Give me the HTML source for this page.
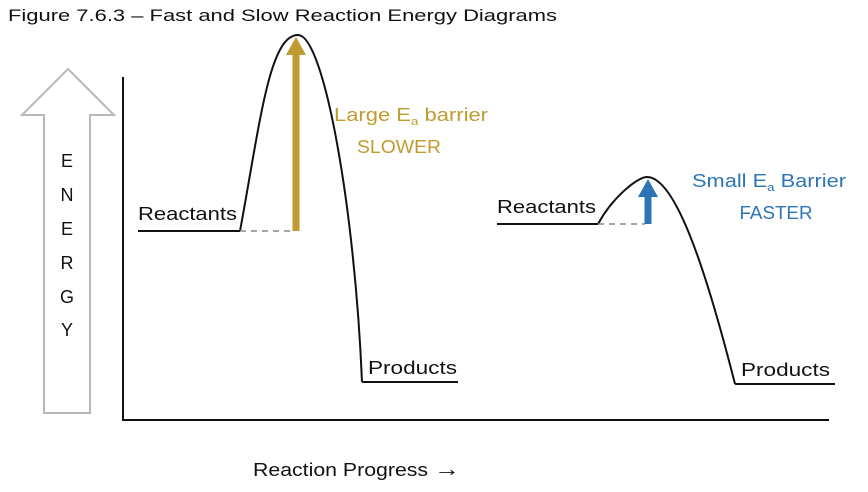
<!DOCTYPE html>
<html><head><meta charset="utf-8"><style>
html,body{margin:0;padding:0;background:#fff;}
svg{display:block;font-family:"Liberation Sans",sans-serif;}
</style></head><body>
<svg id="chart" width="868" height="492" viewBox="0 0 868 492">
<text x="8" y="21" font-size="17" fill="#111" textLength="549" lengthAdjust="spacingAndGlyphs">Figure 7.6.3 – Fast and Slow Reaction Energy Diagrams</text>
<polygon points="68,69 114,115 90,115 90,413 44,413 44,115 22,115" fill="#fff" stroke="#b8b8b8" stroke-width="2"/>
<g font-size="18" fill="#111" text-anchor="middle">
<text x="67" y="167">E</text><text x="67" y="201">N</text><text x="67" y="235">E</text><text x="67" y="269">R</text><text x="67" y="303">G</text><text x="67" y="336">Y</text>
</g>
<line x1="123" y1="77" x2="123" y2="421" stroke="#111" stroke-width="2"/>
<line x1="122" y1="420" x2="829" y2="420" stroke="#111" stroke-width="2"/>
<text x="253" y="476" font-size="18" fill="#111" textLength="207" lengthAdjust="spacingAndGlyphs">Reaction Progress <tspan font-size="22">→</tspan></text>
<g id="plots"></g>
</svg>
<script>
// energy values (y axis units, 0 = x-axis)
const reactions = ['slow', 'fast'];
const reactantE = [189, 196];
const peakE = [385, 243];
const productE = [38, 36];
const barrierLabels = ['Large E|a| barrier', 'Small E|a| Barrier'];
const speedLabels = ['SLOWER', 'FASTER'];

const y = e => 420 - e;
const layout = [
  {rx0:138, rx1:240, px:298, dx:362, dx1:458, ax:296, color:'#bf9b30', lx:334, ly:121, lw:154, sx:399, sy:153, sw:84, c:[20,115,26,24]},
  {rx0:497, rx1:598, px:647, dx:735, dx1:835, ax:648, color:'#2e75b6', lx:692, ly:187, lw:154, sx:776, sy:219, sw:73, c:[14,40,30,88]}
];
const NS='http://www.w3.org/2000/svg';
const g=document.getElementById('plots');
function mk(tag, attrs, parent){const e=document.createElementNS(NS,tag);for(const k in attrs)e.setAttribute(k,attrs[k]);(parent||g).appendChild(e);return e;}
reactions.forEach((r,i)=>{
  const L=layout[i];
  const yr=y(reactantE[i]), yp=y(peakE[i]), yd=y(productE[i]);
  const grp=mk('g',{});
  
  
  const rl=mk('line',{x1:L.rx0,y1:yr,x2:L.rx1,y2:yr,stroke:'#111','stroke-width':2},grp);
  
  
  const c=L.c;
  const d=`M${L.rx1},${yr} C${L.rx1+c[0]},${yr-(yr-yp)*0.55} ${L.px-c[1]*0.25},${yp} ${L.px},${yp} C${L.px+c[2]},${yp} ${L.dx-c[3]*0.3},${yd-(yd-yp)*0.5} ${L.dx},${yd}`;
  const cv=mk('path',{d:d,fill:'none',stroke:'#111','stroke-width':2},grp);
  
  
  const pl=mk('line',{x1:L.dx,y1:yd,x2:L.dx1,y2:yd,stroke:'#111','stroke-width':2},grp);
  
  
  const dl=mk('line',{x1:L.rx1,y1:yr,x2:L.ax-3,y2:yr,stroke:'#888','stroke-width':1.5,'stroke-dasharray':'6,5'},grp);
  
  
  const ar=mk('path',{d:`M${L.ax-3.5},${yr} L${L.ax-3.5},${yp+20} L${L.ax-10},${yp+20} L${L.ax},${yp+2} L${L.ax+10},${yp+20} L${L.ax+3.5},${yp+20} L${L.ax+3.5},${yr} Z`,fill:L.color},grp);
  
  
  const rt=mk('text',{x:L.rx0,y:yr-11,'font-size':18,fill:'#111',textLength:99,lengthAdjust:'spacingAndGlyphs'},grp);rt.textContent='Reactants';
  
  
  const pt=mk('text',{x:L.dx+6,y:yd-8,'font-size':18,fill:'#111',textLength:89,lengthAdjust:'spacingAndGlyphs'},grp);pt.textContent='Products';
  
  
  const parts=barrierLabels[i].split('|');
  const bt=mk('text',{x:L.lx,y:L.ly,'font-size':18,fill:L.color,textLength:L.lw,lengthAdjust:'spacingAndGlyphs'},grp);
  
  
  const t1=mk('tspan',{},bt);t1.textContent=parts[0];
  const t2=mk('tspan',{'font-size':11,dy:4},bt);t2.textContent=parts[1];
  const t3=mk('tspan',{dy:-4},bt);t3.textContent=parts[2];
  const st=mk('text',{x:L.sx,y:L.sy,'font-size':18,fill:L.color,'text-anchor':'middle',textLength:L.sw,lengthAdjust:'spacingAndGlyphs'},grp);st.textContent=speedLabels[i];
  
  
});
</script>
</body></html>
